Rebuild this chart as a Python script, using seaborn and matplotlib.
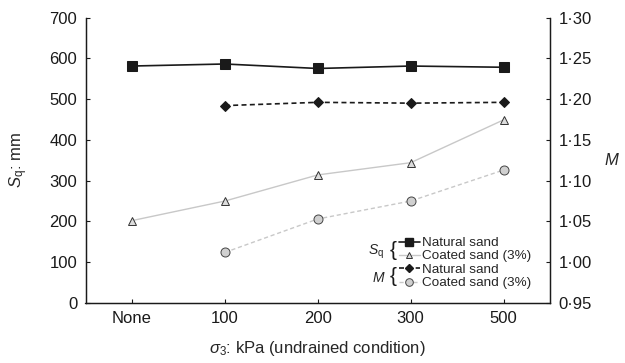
import seaborn as sns
import pandas as pd
import matplotlib.pyplot as plt
from matplotlib.lines import Line2D
from matplotlib.ticker import FuncFormatter

sns.set_theme(style="ticks")
plt.rcParams['font.family'] = ['Liberation Sans', 'DejaVu Sans']
plt.rcParams['mathtext.fontset'] = 'custom'
plt.rcParams['mathtext.rm'] = 'Liberation Sans'
plt.rcParams['mathtext.it'] = 'Liberation Sans:italic'

# data
categories = ['None', '100', '200', '300', '500']
sq_natural = [581, 586, 575, 581, 578]
sq_coated = [202, 250, 314, 344, 449]
m_categories = ['100', '200', '300', '500']
m_natural = [1.192, 1.196, 1.195, 1.196]
m_coated = [1.012, 1.053, 1.075, 1.113]

pos = {c: i for i, c in enumerate(categories)}
sq_df = pd.DataFrame({'x': [pos[c] for c in categories],
                      'natural': sq_natural, 'coated': sq_coated})
m_df = pd.DataFrame({'x': [pos[c] for c in m_categories],
                     'natural': m_natural, 'coated': m_coated})

fig = plt.figure(figsize=(6.25, 3.63), dpi=100)
ax = fig.add_axes([85.5 / 625, 60 / 363, 464.5 / 625, 285.5 / 363])
ax2 = ax.twinx()

sns.lineplot(data=sq_df, x='x', y='natural', ax=ax, color='#1a1a1a', lw=1.2,
             marker='s', markersize=7, markerfacecolor='#1a1a1a',
             markeredgecolor='#1a1a1a', zorder=5)
sns.lineplot(data=sq_df, x='x', y='coated', ax=ax, color='#c8c8c8', lw=1.0,
             marker='^', markersize=6, markerfacecolor='#dcdcdc',
             markeredgecolor='#333333', markeredgewidth=0.7, zorder=4)
sns.lineplot(data=m_df, x='x', y='natural', ax=ax2, color='#1a1a1a', lw=1.2,
             ls=(0, (3, 2)), marker='D', markersize=5, markerfacecolor='#1a1a1a',
             markeredgecolor='#1a1a1a')
sns.lineplot(data=m_df, x='x', y='coated', ax=ax2, color='#c8c8c8', lw=1.0,
             ls=(0, (3, 2)), marker='o', markersize=6.5, markerfacecolor='#d0d0d0',
             markeredgecolor='#444444', markeredgewidth=0.7)

ax.set_xlim(-0.5, 4.5)
ax.set_ylim(0, 700)
ax2.set_ylim(0.95, 1.30)
ax.set_xticks(range(len(categories)))
ax.set_xticklabels(categories)
ax.set_yticks(range(0, 701, 100))
ax2.set_yticks([0.95, 1.00, 1.05, 1.10, 1.15, 1.20, 1.25, 1.30])
ax2.yaxis.set_major_formatter(FuncFormatter(lambda v, p: f'{v:.2f}'.replace('.', '\u00b7')))

for a in (ax, ax2):
    a.spines['top'].set_visible(False)
    a.tick_params(direction='in', length=3, width=0.8, labelsize=12,
                  colors='#1a1a1a', pad=6)
    for s in a.spines.values():
        s.set_linewidth(0.9)
        s.set_color('#1a1a1a')

ax.set_xlabel(r'$\sigma_3$: kPa (undrained condition)', fontsize=12, labelpad=9)
ax.set_ylabel(r'$S_\mathrm{q}$: mm', fontsize=12, labelpad=14)
ax2.set_ylabel('M', fontsize=12, style='italic', rotation=0, labelpad=14, va='center')

handles = [
    Line2D([], [], color='#1a1a1a', lw=1.2, marker='s', markersize=6),
    Line2D([], [], color='#c8c8c8', lw=1.0, marker='^', markersize=5,
           markerfacecolor='#dcdcdc', markeredgecolor='#333333', markeredgewidth=0.7),
    Line2D([], [], color='#1a1a1a', lw=1.2, ls=(0, (3, 2)), marker='D', markersize=4),
    Line2D([], [], color='#c8c8c8', lw=1.0, ls=(0, (3, 2)), marker='o', markersize=5.5,
           markerfacecolor='#d0d0d0', markeredgecolor='#444444', markeredgewidth=0.7),
]
labels = ['Natural sand', 'Coated sand (3%)', 'Natural sand', 'Coated sand (3%)']
leg = fig.legend(handles, labels, loc='upper left', bbox_to_anchor=(399 / 625, 1 - 237 / 363),
                 frameon=False, fontsize=9.7, handlelength=1.55, handletextpad=0.15,
                 labelspacing=0.1, borderpad=0, borderaxespad=0, handleheight=0.6)

fig.text(384 / 625, 1 - 252 / 363, r'$S_\mathrm{q}$', fontsize=10, ha='right', va='center')
fig.text(393 / 625, 1 - 250.5 / 363, '{', fontsize=15, ha='center', va='center', color='#1a1a1a')
fig.text(384 / 625, 1 - 278 / 363, 'M', fontsize=10, style='italic', ha='right', va='center')
fig.text(393 / 625, 1 - 276.5 / 363, '{', fontsize=15, ha='center', va='center', color='#1a1a1a')

fig.savefig('out.png', dpi=100)
